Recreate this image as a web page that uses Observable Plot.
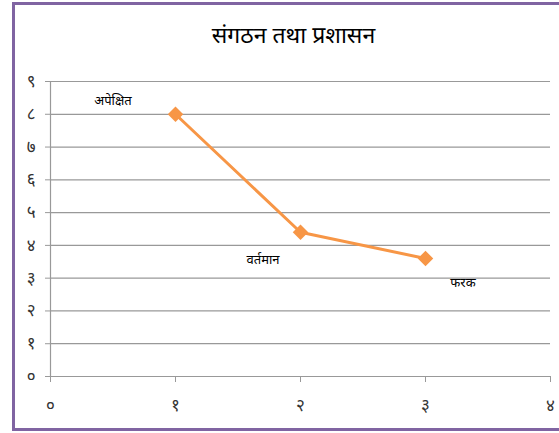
<!DOCTYPE html>
<html>
<head>
<meta charset="utf-8">
<script src="https://cdn.jsdelivr.net/npm/d3@7"></script>
<script src="https://cdn.jsdelivr.net/npm/@observablehq/plot@0.6"></script>
<style>
  html, body { margin: 0; padding: 0; overflow: hidden; background: #fff; }
  #wrap { position: relative; width: 559px; height: 433px; overflow: hidden; }
  #border { position: absolute; left: 12px; top: 2px; width: 620px; height: 423px; border: 3px solid #8064A2; box-sizing: content-box; pointer-events: none; }
  #title { position: absolute; left: 0; top: 18px; width: 587px; text-align: center; font-size: 23px; font-family: "Noto Sans", "Lato", sans-serif; color: #000; }
  #chart { position: absolute; left: 0; top: 0; }
</style>
</head>
<body>
<div id="wrap">
  <div id="chart"></div>
  <div id="border"></div>
  <div id="title">संगठन तथा प्रशासन</div>
</div>
<script>
const title = "संगठन तथा प्रशासन";
const xValues = [1, 2, 3];
const yValues = [8, 4.4, 3.6];
const xTicks = [0, 1, 2, 3, 4];
const xTickLabels = ["०", "१", "२", "३", "४"];
const yTicks = [0, 1, 2, 3, 4, 5, 6, 7, 8, 9];
const yTickLabels = ["०", "१", "२", "३", "४", "५", "६", "७", "८", "९"];
const labelTexts = ["अपेक्षित", "वर्तमान", "फरक"];
const labelX = [0.5, 1.7, 3.3];
const labelY = [8.4, 3.55, 2.85];

const points = xValues.map((x, i) => ({x, y: yValues[i]}));
const labels = labelTexts.map((t, i) => ({t, x: labelX[i], y: labelY[i]}));

const chart = Plot.plot({
  width: 559,
  height: 433,
  marginLeft: 50,
  marginRight: 9,
  marginTop: 81,
  marginBottom: 57,
  style: {fontFamily: "'Noto Sans', sans-serif", background: "transparent"},
  x: {domain: [0, 4], label: null},
  y: {domain: [0, 9], label: null},
  marks: [
    Plot.gridY(yTicks, {stroke: "#999", strokeOpacity: 1, strokeWidth: 1.2}),
    Plot.ruleX([0], {stroke: "#999", strokeWidth: 1.2}),
    Plot.axisY(yTicks, {tickFormat: d => yTickLabels[d], tickSize: 5, tickPadding: 10, fontSize: 17, stroke: "#999", fill: "#333", label: null}),
    Plot.axisX(xTicks, {tickFormat: d => xTickLabels[d], tickSize: 6, tickPadding: 16, fontSize: 17, stroke: "#999", fill: "#333", label: null}),
    Plot.line(points, {x: "x", y: "y", stroke: "#F79646", strokeWidth: 3}),
    Plot.dot(points, {x: "x", y: "y", symbol: "diamond2", r: 7, fill: "#F79646", stroke: "none"}),
    Plot.text(labels, {x: "x", y: "y", text: "t", fontSize: 13, fill: "#000"})
  ]
});
document.getElementById("chart").appendChild(chart);
</script>
</body>
</html>
